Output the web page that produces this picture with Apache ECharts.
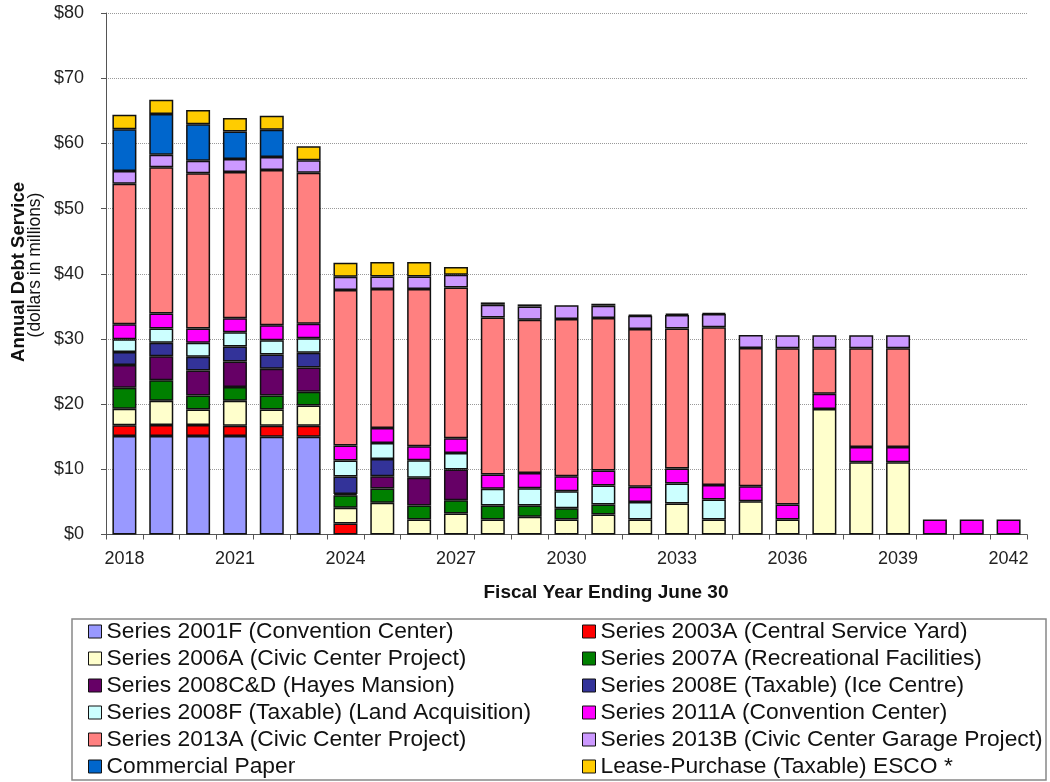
<!DOCTYPE html>
<html>
<head>
<meta charset="utf-8">
<script src="https://cdn.jsdelivr.net/npm/echarts@6/dist/echarts.min.js"></script>
<style>
html,body{margin:0;padding:0;background:#fff;}
#chart{width:1050px;height:782px;}
</style>
</head>
<body>
<div id="chart"></div>
<script>
var years = ['2018','2019','2020','2021','2022','2023','2024','2025','2026','2027','2028','2029','2030','2031','2032','2033','2034','2035','2036','2037','2038','2039','2040','2041','2042'];
var yTicks = [0,10,20,30,40,50,60,70,80];

var s2001F  = [15.1,15.1,15.1,15.1,15.0,15.0,null,null,null,null,null,null,null,null,null,null,null,null,null,null,null,null,null,null,null];
var s2003A  = [1.65,1.68,1.68,1.58,1.68,1.68,1.69,null,null,null,null,null,null,null,null,null,null,null,null,null,null,null,null,null,null];
var s2006A  = [2.55,3.74,2.41,3.84,2.51,3.12,2.4,4.86,2.3,3.22,2.3,2.71,2.3,3.07,2.3,4.75,2.3,5.1,2.3,19.26,11.08,11.08,null,null,null];
var s2007A  = [3.2,3.16,2.14,2.09,2.14,2.1,1.94,2.19,2.14,2.04,2.14,1.73,1.74,1.53,null,null,null,null,null,null,null,null,null,null,null];
var s2008CD = [3.5,3.68,3.83,3.93,4.09,3.72,0.2,1.89,4.25,4.7,null,null,null,null,null,null,null,null,null,null,null,null,null,null,null];
var s2008E  = [2.0,2.04,2.1,2.3,2.2,2.26,2.66,2.66,null,null,null,null,null,null,null,null,null,null,null,null,null,null,null,null,null];
var s2008F  = [1.95,2.2,2.14,2.19,2.19,2.24,2.45,2.45,2.7,2.56,2.56,2.66,2.6,2.91,2.7,3.07,3.06,null,null,null,null,null,null,null,null];
var s2011A  = [2.3,2.3,2.2,2.15,2.3,2.2,2.3,2.3,2.15,2.24,2.2,2.35,2.3,2.3,2.31,2.29,2.25,2.31,2.3,2.35,2.36,2.36,2.3,2.3,2.3];
var s2013A  = [21.55,22.42,23.81,22.43,23.81,23.19,23.85,21.3,24.11,23.14,24.1,23.5,24.11,23.39,24.21,21.51,24.17,21.2,23.96,6.95,15.12,15.12,null,null,null];
var s2013B  = [1.95,1.95,1.94,1.99,1.99,1.89,2.05,1.94,1.94,1.95,1.95,2.04,2.1,1.9,2.04,2.05,2.04,1.99,1.99,1.99,1.99,1.99,null,null,null];
var sCP     = [6.4,6.23,5.57,4.24,4.19,null,null,null,null,null,null,null,null,null,null,null,null,null,null,null,null,null,null,null,null];
var sESCO   = [2.25,2.2,2.19,2.04,2.14,2.15,2.14,2.2,2.2,1.18,0.35,0.31,null,0.3,0.15,0.2,0.15,null,null,null,null,null,null,null,null];

var seriesNames = [
  'Series 2001F (Convention Center)',
  'Series 2003A (Central Service Yard)',
  'Series 2006A (Civic Center Project)',
  'Series 2007A (Recreational Facilities)',
  'Series 2008C&D (Hayes Mansion)',
  'Series 2008E (Taxable) (Ice Centre)',
  'Series 2008F (Taxable) (Land Acquisition)',
  'Series 2011A (Convention Center)',
  'Series 2013A (Civic Center Project)',
  'Series 2013B (Civic Center Garage Project)',
  'Commercial Paper',
  'Lease-Purchase (Taxable) ESCO *'
];
var seriesData = [s2001F,s2003A,s2006A,s2007A,s2008CD,s2008E,s2008F,s2011A,s2013A,s2013B,sCP,sESCO];
var colors = ['#9999FF','#FF0000','#FFFFCC','#008000','#660066','#333399','#CCFFFF','#FF00FF','#FF8080','#CC99FF','#0066CC','#FFCC00'];

var FONT = 'Liberation Sans, Arial, Helvetica, sans-serif';

var series = seriesNames.map(function(n, i){
  return {
    name: n,
    type: 'bar',
    stack: 'debt',
    barWidth: 24,
    data: seriesData[i],
    itemStyle: {color: colors[i], borderColor: '#111', borderWidth: 1.5},
    emphasis: {disabled: true}
  };
});

var leftNames = [0,2,4,6,8,10].map(function(i){return seriesNames[i];});
var rightNames = [1,3,5,7,9,11].map(function(i){return seriesNames[i];});

var legendCommon = {
  orient: 'vertical',
  top: 620,
  height: 200,
  padding: 0,
  itemWidth: 13,
  itemHeight: 13,
  itemGap: 4,
  icon: 'rect',
  selectedMode: false,
  itemStyle: {borderColor: '#111', borderWidth: 1},
  textStyle: {fontFamily: FONT, fontSize: 22.8, color: '#111', lineHeight: 23}
};

var chart = echarts.init(document.getElementById('chart'), null, {renderer: 'canvas'});
chart.setOption({
  animation: false,
  backgroundColor: '#ffffff',
  color: colors,
  grid: {left: 106, right: 23, top: 13, bottom: 247.5, containLabel: false},
  legend: [
    Object.assign({}, legendCommon, {left: 88, data: leftNames}),
    Object.assign({}, legendCommon, {left: 582, data: rightNames})
  ],
  xAxis: {
    type: 'category',
    data: years,
    boundaryGap: true,
    axisLine: {lineStyle: {color: '#555', width: 1}},
    axisTick: {show: true, interval: 0, length: 5, lineStyle: {color: '#555'}},
    axisLabel: {interval: 2, fontFamily: FONT, fontSize: 18, color: '#222', margin: 16}
  },
  yAxis: {
    type: 'value',
    min: yTicks[0],
    max: yTicks[yTicks.length - 1],
    interval: 10,
    axisLine: {show: true, lineStyle: {color: '#555', width: 1}},
    axisTick: {show: true, length: 5, lineStyle: {color: '#555'}},
    axisLabel: {
      fontFamily: FONT, fontSize: 18, color: '#222', margin: 22,
      formatter: function(v){ return '$' + v; }
    },
    splitLine: {show: true, lineStyle: {color: '#999', type: 'dotted', width: 1}}
  },
  graphic: [
    {type: 'rect', shape: {x: 72, y: 619, width: 974, height: 161}, style: {fill: 'none', stroke: '#888', lineWidth: 1.5}, silent: true},
    {type: 'text', x: 606, y: 593, style: {text: 'Fiscal Year Ending June 30', font: 'bold 19px ' + FONT, fill: '#111', textAlign: 'center', textVerticalAlign: 'middle'}, silent: true},
    {type: 'text', x: 19, y: 272, rotation: Math.PI / 2, style: {text: 'Annual Debt Service', font: 'bold 18.5px ' + FONT, fill: '#111', textAlign: 'center', textVerticalAlign: 'middle'}, silent: true},
    {type: 'text', x: 35, y: 265, rotation: Math.PI / 2, style: {text: '(dollars in millions)', font: '17.5px ' + FONT, fill: '#111', textAlign: 'center', textVerticalAlign: 'middle'}, silent: true}
  ],
  series: series
});
</script>
</body>
</html>
